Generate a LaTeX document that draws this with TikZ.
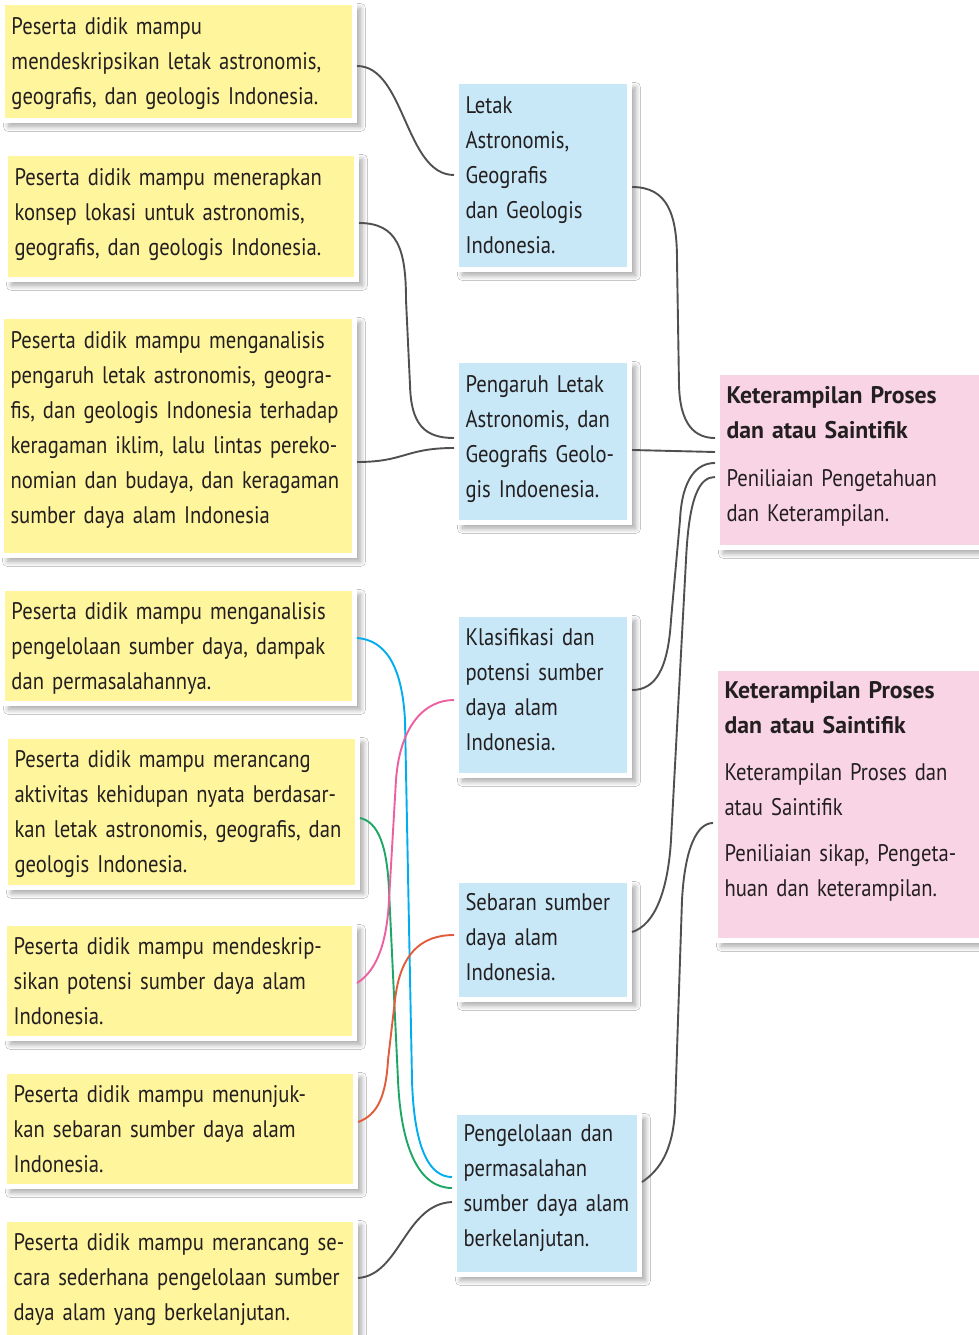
\documentclass[tikz,border=0pt]{standalone}
\usepackage{fontspec}
\setmainfont{PT Sans}[FakeStretch=0.86, BoldFeatures={FakeStretch=0.99}]
\usetikzlibrary{shadows.blur}
\definecolor{ylw}{RGB}{255,245,157}
\definecolor{blu}{RGB}{200,232,248}
\definecolor{pnk}{RGB}{249,212,228}
\definecolor{lnk}{RGB}{80,80,80}
\definecolor{txt}{RGB}{35,31,32}
\definecolor{ccyan}{RGB}{0,174,239}
\definecolor{cgreen}{RGB}{30,166,100}
\definecolor{cpink}{RGB}{236,96,160}
\definecolor{corange}{RGB}{226,92,60}
\newcommand\sa[1][23]{\rule{0pt}{#1pt}}
\newcommand\sz[1][7]{\rule[-#1pt]{0pt}{#1pt}}
\begin{document}
\begin{tikzpicture}[x=1pt,y=-1pt,
  box/.style={draw=white, line width=5pt, inner xsep=9pt, inner ysep=0pt,
    align=left, anchor=center, text=txt,
    font=\fontsize{24}{35}\selectfont,
    blur shadow={shadow xshift=6pt, shadow yshift=-6pt, shadow blur radius=5pt, shadow blur steps=12, shadow opacity=35}},
  ybox/.style={box, fill=ylw},
  bbox/.style={box, fill=blu},
  pbox/.style={box, fill=pnk},
  conn/.style={line width=1.9pt, draw=lnk},
  cconn/.style={line width=1.9pt, draw=#1}]
\useasboundingbox (0,0) rectangle (979,1335);
\fill[white] (0,0) rectangle (979,1335);
\clip (0,0) rectangle (979,1335);

% left column
\node[ybox, minimum width=352pt, minimum height=118pt, text width=334pt] (Y1) at (178.5,61.5)
 {\sa Peserta didik mampu\\mendeskripsikan letak astronomis,\\geografis, dan geologis Indonesia.\sz};
\node[ybox, minimum width=351pt, minimum height=126pt, text width=333pt] (Y2) at (181,216.5)
 {\sa[19]Peserta didik mampu menerapkan\\konsep lokasi untuk astronomis,\\geografis, dan geologis Indonesia.\sz[11]};
\node[ybox, minimum width=353pt, minimum height=239pt, text width=335pt] (Y3) at (178,436)
 {\sa[17]Peserta didik mampu menganalisis\\pengaruh letak astronomis, geogra-\\fis, dan geologis Indonesia terhadap\\keragaman iklim, lalu lintas pereko-\\nomian dan budaya, dan keragaman\\sumber daya alam Indonesia\sz[18]};
\node[ybox, minimum width=352pt, minimum height=115pt, text width=334pt] (Y4) at (178.5,646)
 {\sa Peserta didik mampu menganalisis\\pengelolaan sumber daya, dampak\\dan permasalahannya.\sz};
\node[ybox, minimum width=352pt, minimum height=151pt, text width=334pt] (Y5) at (181.5,812)
 {\sa Peserta didik mampu merancang\\aktivitas kehidupan nyata berdasar-\\kan letak astronomis, geografis, dan\\geologis Indonesia.\sz};
\node[ybox, minimum width=350pt, minimum height=115pt, text width=332pt] (Y6) at (179.5,981)
 {\sa Peserta didik mampu mendeskrip-\\sikan potensi sumber daya alam\\Indonesia.\sz};
\node[ybox, minimum width=351pt, minimum height=115pt, text width=333pt] (Y7) at (180,1129)
 {\sa Peserta didik mampu menunjuk-\\kan sebaran sumber daya alam\\Indonesia.\sz};
\node[ybox, minimum width=351pt, minimum height=133pt, text width=333pt] (Y8) at (180,1286)
 {\sa[17]Peserta didik mampu merancang se-\\cara sederhana pengelolaan sumber\\daya alam yang berkelanjutan.\sz[19]};

% middle column
\node[bbox, minimum width=173pt, minimum height=188pt, text width=155pt] (B1) at (543,175.5)
 {\sa Letak\\Astronomis,\\Geografis\\dan Geologis\\Indonesia.\sz};
\node[bbox, minimum width=173pt, minimum height=162pt, text width=155pt] (B2) at (543,441.5)
 {\sa[17]Pengaruh Letak\\Astronomis, dan\\Geografis Geolo-\\gis Indoenesia.\sz[10]};
\node[bbox, minimum width=173pt, minimum height=161pt, text width=155pt] (B3) at (543,695)
 {\sa[17]Klasifikasi dan\\potensi sumber\\daya alam\\Indonesia.\sz[11]};
\node[bbox, minimum width=173pt, minimum height=119pt, text width=155pt] (B4) at (543,940)
 {\sa[17]Sebaran sumber\\daya alam\\Indonesia.\sz[7]};
\node[bbox, minimum width=185pt, minimum height=162pt, text width=167pt] (B5) at (547,1193.5)
 {\sa[17]Pengelolaan dan\\permasalahan\\sumber daya alam\\berkelanjutan.\sz[17]};

% right column
\node[pbox, minimum width=275pt, minimum height=175pt, text width=257pt] (P1) at (855,460)
 {\sa[17]\textbf{Keterampilan Proses}\\\textbf{dan atau Saintifik}\\[13pt]Peniliaian Pengetahuan\\dan Keterampilan.\sz[13]};
\node[pbox, minimum width=277pt, minimum height=272pt, text width=259pt] (P2) at (854,804.5)
 {\sa[17]\textbf{Keterampilan Proses}\\\textbf{dan atau Saintifik}\\[12pt]Keterampilan Proses dan\\atau Saintifik\\[11pt]Peniliaian sikap, Pengeta-\\huan dan keterampilan.\sz[31]};

% connectors, left to middle
\draw[conn] (Y1.east |- 0,66) .. controls (405,66) and (405,175) .. (B1.west |- 0,175);
\draw[conn] (Y2.east |- 0,223) .. controls (398,223) and (406,250) .. (406,300)
  -- (410,385) .. controls (411,425) and (425,438) .. (B2.west |- 0,438);
\draw[conn] (Y3.east |- 0,462) .. controls (405,462) and (405,448) .. (B2.west |- 0,448);
\draw[cconn=ccyan] (Y4.east |- 0,638) .. controls (385,640) and (402,665) .. (405,720)
  -- (412,1080) .. controls (414,1150) and (430,1177) .. (B5.west |- 0,1177);
\draw[cconn=cgreen] (Y5.east |- 0,818) .. controls (378,822) and (387,845) .. (389,890)
  -- (398,1080) .. controls (401,1150) and (420,1188) .. (B5.west |- 0,1188);
\draw[cconn=cpink] (Y6.east |- 0,983) .. controls (378,970) and (387,940) .. (389,900)
  -- (396,780) .. controls (400,725) and (425,700) .. (B3.west |- 0,700);
\draw[cconn=corange] (Y7.east |- 0,1122) .. controls (378,1115) and (386,1095) .. (388,1060)
  -- (395,1000) .. controls (400,955) and (420,935) .. (B4.west |- 0,935);
\draw[conn] (Y8.east |- 0,1278) .. controls (400,1275) and (405,1204) .. (B5.west |- 0,1202);

% connectors, middle to right
\draw[conn] (B1.east |- 0,187) .. controls (668,187) and (677,215) .. (677,260)
  -- (679,385) .. controls (680,425) and (695,438) .. (P1.west |- 0,438);
\draw[conn] (B2.east |- 0,450) -- (P1.west |- 0,452);
\draw[conn] (B3.east |- 0,690) .. controls (655,690) and (668,670) .. (671,620)
  -- (680,520) .. controls (682,478) and (697,463) .. (P1.west |- 0,463);
\draw[conn] (B4.east |- 0,932) .. controls (655,925) and (668,890) .. (671,840)
  -- (686,560) .. controls (689,495) and (700,477) .. (P1.west |- 0,477);
\draw[conn] (B5.east |- 0,1182) .. controls (660,1170) and (673,1150) .. (675,1110)
  -- (682,900) .. controls (685,845) and (698,823) .. (P2.west |- 0,823);
\end{tikzpicture}
\end{document}
